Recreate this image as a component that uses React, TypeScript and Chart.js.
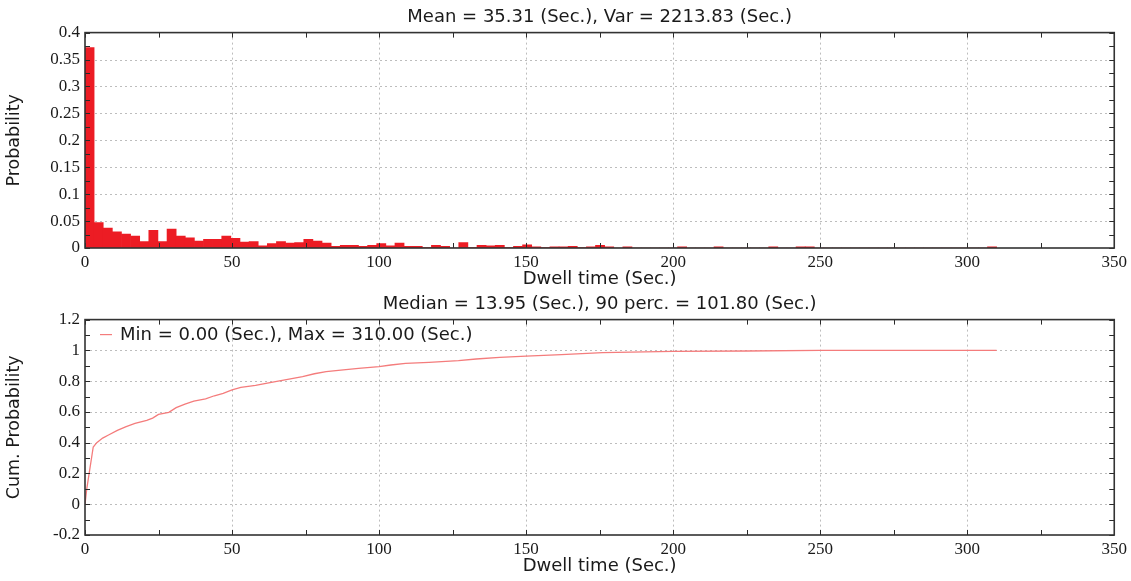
import React, { useEffect, useRef } from "react";
import { Chart, registerables } from "chart.js";

Chart.register(...registerables);

// ---------- data ----------
const histTitle = "Mean = 35.31 (Sec.), Var = 2213.83 (Sec.)";
const cdfTitle = "Median = 13.95 (Sec.), 90 perc. = 101.80 (Sec.)";
const cdfLegend = "Min = 0.00 (Sec.), Max = 310.00 (Sec.)";
const xAxisTitle = "Dwell time (Sec.)";
const histYTitle = "Probability";
const cdfYTitle = "Cum. Probability";

const binWidth = 3.1; // seconds per histogram bin (0 .. 310 in 100 bins)
const binProbabilities = [
  0.372, 0.047, 0.037, 0.030, 0.026, 0.022, 0.012, 0.033, 0.012, 0.035,
  0.022, 0.019, 0.013, 0.016, 0.016, 0.022, 0.018, 0.011, 0.012, 0.004,
  0.008, 0.012, 0.009, 0.010, 0.016, 0.013, 0.009, 0.003, 0.005, 0.005,
  0.003, 0.005, 0.008, 0.004, 0.009, 0.003, 0.003, 0.001, 0.005, 0.003,
  0.000, 0.010, 0.001, 0.005, 0.004, 0.005, 0.001, 0.003, 0.006, 0.002,
  0.001, 0.002, 0.002, 0.003, 0.001, 0.002, 0.005, 0.002, 0.000, 0.002,
  0.000, 0.000, 0.000, 0.000, 0.000, 0.002, 0.000, 0.000, 0.000, 0.002,
  0.000, 0.000, 0.000, 0.000, 0.000, 0.002, 0.000, 0.000, 0.002, 0.002,
  0.000, 0.000, 0.000, 0.000, 0.000, 0.000, 0.000, 0.000, 0.000, 0.000,
  0.000, 0.000, 0.000, 0.000, 0.000, 0.000, 0.000, 0.000, 0.000, 0.002,
];

const cdfTimes = [
  0, 0.6, 2.8, 4, 6, 8, 11, 14, 17, 21, 23, 25, 28.5, 31, 34, 37, 41, 44, 47, 50,
  53, 58, 62, 68, 74, 78, 82, 87, 93, 100, 104, 109, 117, 127, 133, 141, 150,
  162, 176, 200, 225, 250, 310,
];
const cdfValues = [
  0, 0.1, 0.372, 0.4, 0.43, 0.45, 0.48, 0.505, 0.525, 0.545, 0.56, 0.584, 0.597,
  0.628, 0.65, 0.67, 0.685, 0.705, 0.72, 0.743, 0.76, 0.772, 0.787, 0.808, 0.83,
  0.848, 0.862, 0.872, 0.883, 0.894, 0.905, 0.915, 0.922, 0.933, 0.944, 0.955,
  0.963, 0.972, 0.986, 0.993, 0.996, 1.0, 1.0,
];

const xMin = 0;
const xMax = 350;
const xStep = 50;
const histYMin = 0;
const histYMax = 0.4;
const histYStep = 0.05;
const cdfYMin = -0.2;
const cdfYMax = 1.2;
const cdfYStep = 0.2;

// ---------- styles ----------
const BAR_RED = "#ec1c24";
const LINE_RED = "#f47c7c";
const SANS = "'DejaVu Sans', Verdana, sans-serif";
const SERIF = "'Liberation Serif', 'Times New Roman', serif";
const TEXT = "#1a1a1a";
const W = 1131;
const H = 290;

const fmtTick = (v: any) => {
  const r = Math.round(Number(v) * 1000) / 1000;
  return String(Object.is(r, -0) || r === 0 ? 0 : r);
};

const framePlugin = {
  id: "frameTicks",
  beforeDatasetsDraw(chart: any) {
    const { ctx, chartArea: a, scales } = chart;
    ctx.save();
    ctx.strokeStyle = "#bdbdbd";
    ctx.lineWidth = 1;
    ctx.setLineDash([2, 3]);
    for (const t of scales.x.ticks) {
      const px = Math.round(scales.x.getPixelForValue(t.value)) + 0.5;
      if (px <= a.left + 1 || px >= a.right - 1) continue;
      ctx.beginPath();
      ctx.moveTo(px, a.top);
      ctx.lineTo(px, a.bottom);
      ctx.stroke();
    }
    for (const t of scales.y.ticks) {
      const py = Math.round(scales.y.getPixelForValue(t.value)) + 0.5;
      if (py <= a.top + 1 || py >= a.bottom - 1) continue;
      ctx.beginPath();
      ctx.moveTo(a.left, py);
      ctx.lineTo(a.right, py);
      ctx.stroke();
    }
    ctx.restore();
  },
  afterDatasetsDraw(chart: any) {
    const { ctx, chartArea: a, scales } = chart;
    ctx.save();
    ctx.setLineDash([]);
    ctx.strokeStyle = "#2a2a2a";
    ctx.lineWidth = 1;
    const tickLen = 5;
    const xt = scales.x.ticks.map((t: any) => t.value);
    const xs: number[] = [];
    for (let i = 0; i < xt.length; i++) {
      xs.push(xt[i]);
      if (i < xt.length - 1) xs.push((xt[i] + xt[i + 1]) / 2);
    }
    for (const v of xs) {
      const px = Math.round(scales.x.getPixelForValue(v)) + 0.5;
      ctx.beginPath();
      ctx.moveTo(px, a.bottom);
      ctx.lineTo(px, a.bottom - tickLen);
      ctx.moveTo(px, a.top);
      ctx.lineTo(px, a.top + tickLen);
      ctx.stroke();
    }
    const yt = scales.y.ticks.map((t: any) => t.value);
    const ys: number[] = [];
    for (let i = 0; i < yt.length; i++) {
      ys.push(yt[i]);
      if (i < yt.length - 1) ys.push((yt[i] + yt[i + 1]) / 2);
    }
    for (const v of ys) {
      const py = Math.round(scales.y.getPixelForValue(v)) + 0.5;
      ctx.beginPath();
      ctx.moveTo(a.left, py);
      ctx.lineTo(a.left + tickLen, py);
      ctx.moveTo(a.right, py);
      ctx.lineTo(a.right - tickLen, py);
      ctx.stroke();
    }
    ctx.lineWidth = 1.6;
    ctx.strokeStyle = "#333";
    ctx.strokeRect(a.left, a.top, a.right - a.left, a.bottom - a.top);

    const opts = chart.options.plugins.frameTicks || {};
    if (opts.legend) {
      const ds = chart.data.datasets[0];
      const ly = a.top + 15;
      ctx.lineWidth = 1.2;
      ctx.strokeStyle = ds.borderColor;
      ctx.beginPath();
      ctx.moveTo(a.left + 15, ly);
      ctx.lineTo(a.left + 27, ly);
      ctx.stroke();
      ctx.fillStyle = TEXT;
      ctx.font = `18px ${SANS}`;
      ctx.textBaseline = "middle";
      ctx.textAlign = "left";
      ctx.fillText(ds.label, a.left + 35, ly + 1);
    }
    ctx.restore();
  },
};

function baseOptions(title: string, yTitle: string, yMin: number, yMax: number, yStep: number, legend: boolean) {
  return {
    animation: false,
    responsive: false,
    maintainAspectRatio: false,
    layout: { padding: { left: 0, right: 14, top: 0, bottom: 0 } },
    plugins: {
      legend: { display: false },
      tooltip: { enabled: false },
      frameTicks: { legend },
      title: {
        display: true,
        fullSize: false,
        text: title,
        color: TEXT,
        font: { family: SANS, size: 18, weight: "normal", lineHeight: 1.2 },
        padding: { top: 7, bottom: 4 },
      },
    },
    scales: {
      x: {
        type: "linear",
        min: xMin,
        max: xMax,
        offset: false,
        grid: { display: false, drawTicks: false, offset: false },
        border: { display: false },
        ticks: {
          stepSize: xStep,
          color: TEXT,
          padding: 4,
          maxRotation: 0,
          font: { family: SERIF, size: 17 },
          callback: fmtTick,
        },
        title: {
          display: true,
          text: xAxisTitle,
          color: TEXT,
          padding: { top: 0, bottom: 0 },
          font: { family: SANS, size: 18, lineHeight: 1.2 },
        },
        afterFit: (s: any) => {
          s.height = 42;
        },
      },
      y: {
        type: "linear",
        min: yMin,
        max: yMax,
        grid: { display: false, drawTicks: false },
        border: { display: false },
        ticks: {
          stepSize: yStep,
          color: TEXT,
          padding: 5,
          font: { family: SERIF, size: 17 },
          callback: fmtTick,
        },
        title: {
          display: true,
          text: yTitle,
          color: TEXT,
          padding: { top: 4, bottom: 0 },
          font: { family: SANS, size: 17.5, lineHeight: 1.2 },
        },
        afterFit: (s: any) => {
          s.width = 85;
        },
      },
    },
  };
}

export default function App() {
  const topRef = useRef<HTMLCanvasElement>(null);
  const botRef = useRef<HTMLCanvasElement>(null);

  useEffect(() => {
    document.body.style.margin = "0";
    const histData = binProbabilities.map((p, i) => ({ x: binWidth * i + binWidth / 2, y: p }));
    const cdfData = cdfTimes.map((t, i) => ({ x: t, y: cdfValues[i] }));

    const top = new Chart(topRef.current as HTMLCanvasElement, {
      type: "bar",
      data: {
        datasets: [
          {
            label: histYTitle,
            data: histData,
            backgroundColor: BAR_RED,
            borderWidth: 0,
            barPercentage: 1,
            categoryPercentage: 1,
            grouped: false,
          } as any,
        ],
      },
      options: baseOptions(histTitle, histYTitle, histYMin, histYMax, histYStep, false) as any,
      plugins: [framePlugin],
    });

    const bot = new Chart(botRef.current as HTMLCanvasElement, {
      type: "line",
      data: {
        datasets: [
          {
            label: cdfLegend,
            data: cdfData,
            borderColor: LINE_RED,
            borderWidth: 1.3,
            pointRadius: 0,
            tension: 0,
            fill: false,
          } as any,
        ],
      },
      options: baseOptions(cdfTitle, cdfYTitle, cdfYMin, cdfYMax, cdfYStep, true) as any,
      plugins: [framePlugin],
    });

    return () => {
      top.destroy();
      bot.destroy();
    };
  }, []);

  return (
    <div style={{ position: "relative", width: W, height: 581, background: "#fff" }}>
      <canvas ref={topRef} width={W} height={H} style={{ position: "absolute", left: 0, top: 0, width: W, height: H }} />
      <canvas ref={botRef} width={W} height={H} style={{ position: "absolute", left: 0, top: 287, width: W, height: H }} />
    </div>
  );
}
